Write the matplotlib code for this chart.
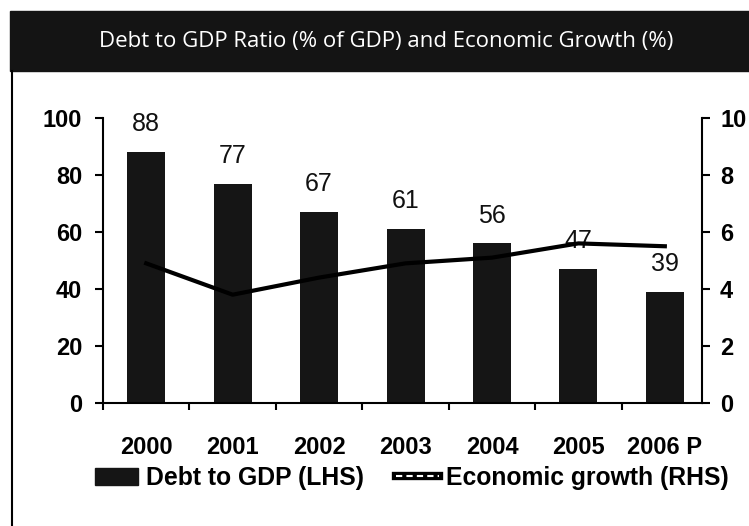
import matplotlib
matplotlib.use('Agg')
import matplotlib.pyplot as plt
from matplotlib.lines import Line2D
from matplotlib.patches import Rectangle, Patch
from matplotlib.legend_handler import HandlerTuple

# --- Data ---
years = ['2000', '2001', '2002', '2003', '2004', '2005', '2006 P']
debt_to_gdp = [88, 77, 67, 61, 56, 47, 39]
econ_growth = [4.9, 3.8, 4.4, 4.9, 5.1, 5.6, 5.5]
left_ticks = [0, 20, 40, 60, 80, 100]
right_ticks = [0, 2, 4, 6, 8, 10]

title = 'Debt to GDP Ratio (% of GDP) and Economic Growth (%)'
W, H = 749, 526

plt.rcParams['font.family'] = ['Liberation Sans', 'DejaVu Sans']

fig = plt.figure(figsize=(W / 100, H / 100), dpi=100)
fig.patch.set_facecolor('white')

# --- Header bar ---
fig.patches.append(Rectangle((10 / W, 1 - 71 / H), 1 - 10 / W, 60 / H,
                             transform=fig.transFigure, color='#141414', zorder=0))
fig.text(386 / W, 1 - 42 / H, title, color='white', fontsize=16,
         family=['Open Sans', 'DejaVu Sans'], ha='center', va='center')
fig.lines.append(Line2D([12 / W, 12 / W], [0, 1 - 71 / H], transform=fig.transFigure,
                        color='black', lw=1.5))

# --- Main axes ---
ax = fig.add_axes([103 / W, (H - 403) / H, 599 / W, 285 / H])
ax.patch.set_alpha(0)
x = list(range(len(years)))
ax.bar(x, debt_to_gdp, width=0.44, color='#151515', zorder=2)
for xi, v in zip(x, debt_to_gdp):
    ax.annotate(str(v), (xi, v), xytext=(0, 20), textcoords='offset points',
                ha='center', va='center', fontsize=18, color='#111111')

ax.set_xlim(-0.5, 6.43)
ax.set_ylim(0, 100)
ax.set_yticks(left_ticks)
ax.set_xticks(x)
ax.set_xticklabels(years)
ax.set_xticks([i - 0.5 for i in range(len(years))], minor=True)
ax.tick_params(axis='x', which='major', length=0, pad=24, labelsize=17)
ax.tick_params(axis='x', which='minor', length=5, width=1.5, direction='out')
ax.tick_params(axis='y', length=6, width=1.5, pad=9, labelsize=17)
for lab in ax.get_xticklabels() + ax.get_yticklabels():
    lab.set_fontweight('bold')
for s in ['top', 'right']:
    ax.spines[s].set_visible(False)
for s in ['left', 'bottom']:
    ax.spines[s].set_linewidth(1.5)

# --- Right axis: growth line ---
ax2 = ax.twinx()
ax2.plot(x, econ_growth, color='black', lw=3, zorder=3)
ax2.set_ylim(0, 10)
ax2.set_yticks(right_ticks)
ax2.tick_params(axis='y', length=6, width=1.5, pad=7, labelsize=17)
for lab in ax2.get_yticklabels():
    lab.set_fontweight('bold')
for s in ['top', 'left', 'bottom']:
    ax2.spines[s].set_visible(False)
ax2.spines['right'].set_linewidth(1.5)

# --- Legend ---
bar_handle = Patch(color='#151515')
line_handle = (Line2D([0, 1], [0, 0], color='black', lw=6),
               Line2D([0, 1], [0, 0], color='white', lw=1.5, ls=(0, (3, 2))))
fig.legend([bar_handle, line_handle], ['Debt to GDP (LHS)', 'Economic growth (RHS)'],
           handler_map={tuple: HandlerTuple(ndivide=1, pad=0)},
           loc='center left', bbox_to_anchor=(95 / W, 1 - 478 / H), ncol=2,
           frameon=False, borderpad=0, borderaxespad=0, handlelength=1.75,
           handleheight=0.7, handletextpad=0.3, columnspacing=1.3,
           prop={'size': 17.8, 'weight': 'bold'})

fig.savefig('out.png', dpi=100)
